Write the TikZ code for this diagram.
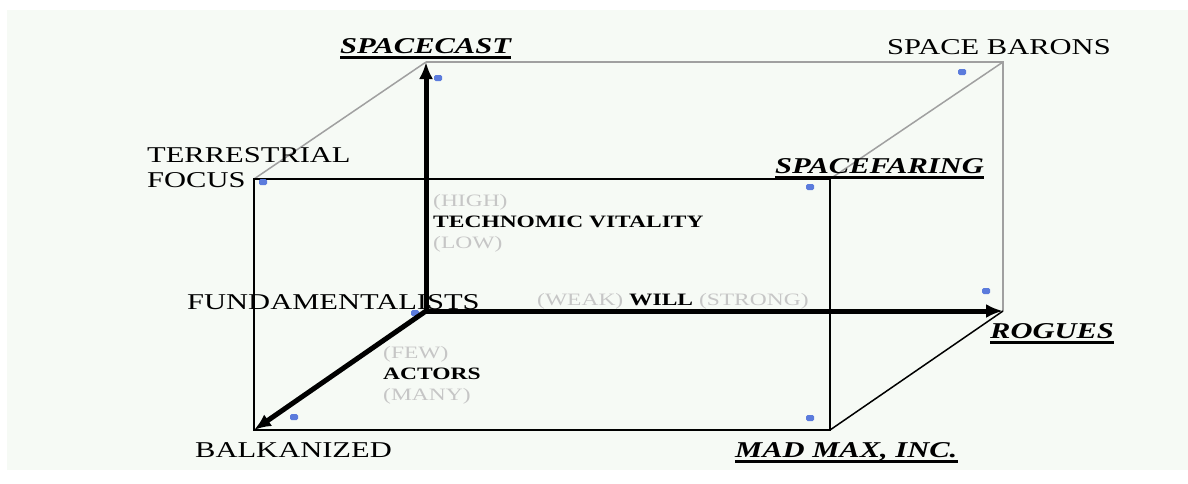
\documentclass[tikz,border=0pt]{standalone}
\usepackage{fontspec}
\setmainfont{Liberation Serif}[FakeStretch=1.35]
\usepackage{tikz}
\usetikzlibrary{arrows.meta}
\definecolor{cPanel}{HTML}{F6FAF5}
\definecolor{cBack}{HTML}{A0A0A0}
\definecolor{cDot}{HTML}{5B7BDC}
\definecolor{cPole}{HTML}{C6C6C6}
\tikzset{
  corner/.style  = {font=\fontsize{22.6}{25}\selectfont, inner sep=0pt,
                    anchor=base west, align=left},
  hot/.style     = {corner, font=\fontsize{22.6}{25}\selectfont\bfseries\itshape,
                    text depth=0pt,
                    append after command={([yshift=-4pt]\tikzlastnode.south west)
                      edge[line width=2.6pt] ([yshift=-4pt]\tikzlastnode.south east)}},
  axlab/.style   = {font=\fontsize{17.4}{21}\selectfont, inner sep=0pt,
                    anchor=base west, align=left, text=cPole},
  pin/.style     = {rectangle, rounded corners=1.5pt, fill=cDot, inner sep=0pt,
                    minimum width=8pt, minimum height=6pt},
  edgeb/.style   = {draw=cBack, line width=1.5pt},
  edgef/.style   = {draw=black, line width=1.5pt},
  axis/.style    = {line width=5pt, -{Latex[length=17pt,width=14pt]}},
}
\begin{document}
\begin{tikzpicture}[x=1pt,y=-1pt]
  \useasboundingbox (0,0) rectangle (1188,483);
  \fill[white] (0,0) rectangle (1188,483);
  \fill[cPanel] (7,10) rectangle (1188,470);

  % ---- CUBE ----
  \coordinate (fTL) at (254,179);
  \coordinate (fTR) at (830,179);
  \coordinate (fBR) at (830,430);
  \coordinate (fBL) at (254,430);
  \coordinate (bTL) at (426,62);
  \coordinate (bTR) at (1003,62);
  \coordinate (bBR) at (1003,311);
  \coordinate (bBL) at (426,311);

  \draw[edgeb] (bTL) -- (bTR) -- (bBR);
  \draw[edgeb] (fTL) -- (bTL);
  \draw[edgeb] (fTR) -- (bTR);
  \draw[edgef] (fTL) rectangle (fBR);
  \draw[edgef] (fBR) -- (bBR);

  % ---- SCENARIOS ----
  \node[hot]    (spacecast) at (340,53)  {SPACECAST};
  \node[corner] (barons)    at (887,54)  {SPACE BARONS};
  \node[corner] (terr)      at (147,187) {TERRESTRIAL\\FOCUS};
  \node[hot]    (faring)    at (775,173) {SPACEFARING};
  \node[corner] (fund)      at (187,309) {FUNDAMENTALISTS};
  \node[hot]    (rogues)    at (990,338) {ROGUES};
  \node[corner] (balk)      at (195,457) {BALKANIZED};
  \node[hot]    (madmax)    at (735,457) {MAD MAX, INC.};

  \node[pin] (pspacecast) at (438,78)  {};
  \node[pin] (pbarons)    at (962,72)  {};
  \node[pin] (pterr)      at (263,182) {};
  \node[pin] (pfaring)    at (810,187) {};
  \node[pin] (pfund)      at (415,313) {};
  \node[pin] (progues)    at (986,291) {};
  \node[pin] (pbalk)      at (294,417) {};
  \node[pin] (pmadmax)    at (810,418) {};

  % ---- AXES ----
  \draw[axis] (bBL) -- (bTL);
  \draw[axis] (bBL) -- (bBR);
  \draw[axis] (bBL) -- (fBL);

  \node[axlab] (tech)   at (433,248) {(HIGH)\\\textcolor{black}{\bfseries TECHNOMIC VITALITY}\\(LOW)};
  \node[axlab] (will)   at (537,305) {(WEAK) \textcolor{black}{\bfseries WILL} (STRONG)};
  \node[axlab] (actors) at (383,400) {(FEW)\\\textcolor{black}{\bfseries ACTORS}\\(MANY)};
\end{tikzpicture}
\end{document}
